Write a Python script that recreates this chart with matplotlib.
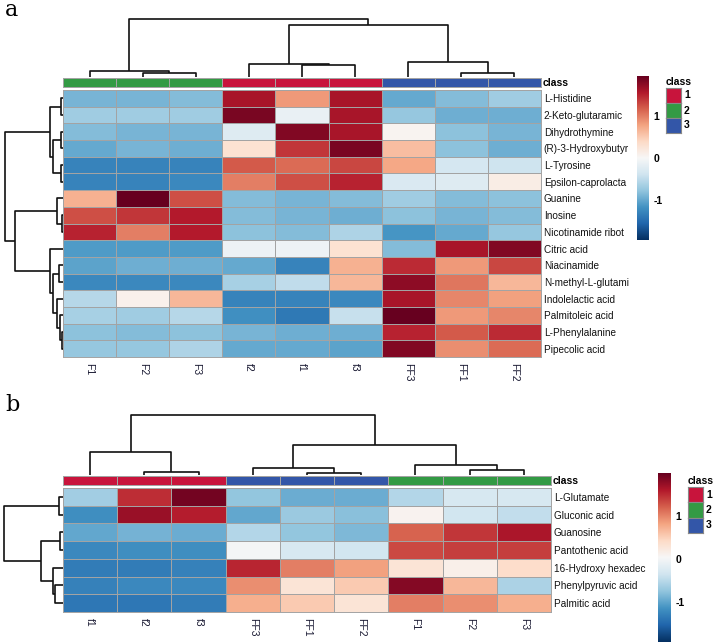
import numpy as np
import matplotlib
matplotlib.use("Agg")
import matplotlib.pyplot as plt
from matplotlib.colors import Normalize, ListedColormap

# ---------------- data: panel a ----------------
a_cols = ["F1", "F2", "F3", "f2", "f1", "f3", "FF3", "FF1", "FF2"]
a_class = [2, 2, 2, 1, 1, 1, 3, 3, 3]
a_rows = ["L-Histidine", "2-Keto-glutaramic", "Dihydrothymine", "(R)-3-Hydroxybutyr",
          "L-Tyrosine", "Epsilon-caprolacta", "Guanine", "Inosine", "Nicotinamide ribot",
          "Citric acid", "Niacinamide", "N-methyl-L-glutami", "Indolelactic acid",
          "Palmitoleic acid", "L-Phenylalanine", "Pipecolic acid"]
a_values = [
    [-0.90, -0.90, -0.85, 1.60, 0.85, 1.60, -1.00, -0.85, -0.70],
    [-0.70, -0.70, -0.70, 1.85, -0.15, 1.60, -0.75, -0.95, -0.95],
    [-0.85, -0.90, -0.90, -0.25, 1.80, 1.60, 0.05, -0.80, -0.90],
    [-1.00, -0.90, -0.95, 0.30, 1.40, 1.85, 0.60, -0.80, -0.95],
    [-1.30, -1.30, -1.30, 1.20, 1.10, 1.30, 0.75, -0.35, -0.40],
    [-1.30, -1.30, -1.25, 1.00, 1.25, 1.50, -0.30, -0.25, 0.15],
    [0.70, 1.95, 1.25, -0.85, -0.90, -0.85, -0.70, -0.85, -0.80],
    [1.25, 1.40, 1.55, -0.85, -0.90, -0.95, -0.80, -0.90, -0.85],
    [1.50, 1.00, 1.55, -0.80, -0.85, -0.60, -1.15, -1.00, -0.75],
    [-1.10, -1.10, -1.10, -0.10, -0.10, 0.30, -0.85, 1.60, 1.80],
    [-1.05, -0.95, -0.95, -1.00, -1.30, 0.70, 1.45, 0.85, 1.30],
    [-1.25, -1.25, -1.25, -0.65, -0.50, 0.65, 1.75, 1.05, 0.65],
    [-0.55, 0.10, 0.65, -1.30, -1.30, -1.25, 1.60, 0.95, 0.80],
    [-0.65, -0.70, -0.55, -1.20, -1.40, -0.45, 1.95, 0.85, 0.95],
    [-0.80, -0.85, -0.80, -0.90, -0.95, -0.95, 1.50, 1.20, 1.45],
    [-0.75, -0.75, -0.60, -1.00, -1.00, -1.05, 1.80, 0.90, 1.10],
]
# linkage (left, right, height) ; ids >= n refer to earlier merges
a_col_merges = [(1, 2, 4.4), (0, 9, 5.7), (4, 5, 11.7), (3, 11, 12.7),
                (7, 8, 4.0), (6, 13, 15.0), (12, 14, 51.0), (10, 15, 57.4)]
a_row_merges = [(0, 1, 2.0), (2, 3, 2.0), (4, 5, 2.3), (17, 18, 10.3), (16, 19, 13.0),
                (7, 8, 1.5), (6, 21, 6.5), (14, 15, 1.5), (13, 23, 3.0), (12, 24, 5.7),
                (10, 11, 3.7), (26, 25, 10.0), (9, 27, 13.0), (22, 28, 48.0), (20, 29, 58.0)]

# ---------------- data: panel b ----------------
b_cols = ["f1", "f2", "f3", "FF3", "FF1", "FF2", "F1", "F2", "F3"]
b_class = [1, 1, 1, 3, 3, 3, 2, 2, 2]
b_rows = ["L-Glutamate", "Gluconic acid", "Guanosine", "Pantothenic acid",
          "16-Hydroxy hexadec", "Phenylpyruvic acid", "Palmitic acid"]
b_values = [
    [-0.65, 1.50, 1.95, -0.75, -0.95, -0.95, -0.55, -0.30, -0.30],
    [-1.20, 1.75, 1.60, -1.00, -0.70, -0.80, 0.10, -0.35, -0.45],
    [-1.00, -0.90, -0.95, -0.55, -0.75, -0.85, 1.20, 1.45, 1.65],
    [-1.25, -1.20, -1.20, 0.00, -0.30, -0.35, 1.35, 1.40, 1.40],
    [-1.35, -1.35, -1.30, 1.55, 1.05, 0.85, 0.30, 0.15, 0.40],
    [-1.30, -1.25, -1.25, 0.95, 0.30, 0.55, 1.85, 0.70, -0.60],
    [-1.40, -1.40, -1.35, 0.75, 0.55, 0.30, 1.05, 0.95, 0.75],
]
b_col_merges = [(1, 2, 2.7), (0, 9, 22.7), (4, 5, 1.7), (3, 11, 6.7),
                (7, 8, 5.0), (6, 13, 10.0), (12, 14, 29.3), (10, 15, 59.3)]
b_row_merges = [(0, 1, 4.0), (2, 3, 3.0), (5, 6, 8.0), (4, 9, 10.0),
                (8, 10, 22.0), (7, 11, 59.0)]

class_labels = ["1", "2", "3"]
class_colors = {1: "#C8143C", 2: "#339A44", 3: "#3356A8"}

W, H = 719, 644
fig = plt.figure(figsize=(W / 100, H / 100), dpi=100)
plt.rcParams['font.family'] = ['Liberation Sans', 'DejaVu Sans']

GRID = "#a3a3a3"


def ax_px(x0, y0, x1, y1):
    return fig.add_axes([x0 / W, 1 - y1 / H, (x1 - x0) / W, (y1 - y0) / H])


def draw_dendro(ax, merges, n, orient):
    pos = {i: i + 0.5 for i in range(n)}
    hgt = {i: 0.0 for i in range(n)}
    for k, (l, r, h) in enumerate(merges):
        xs = [pos[l], pos[l], pos[r], pos[r]]
        ys = [hgt[l], h, h, hgt[r]]
        if orient == "top":
            ax.plot(xs, ys, color="#111111", lw=1.2, solid_capstyle="butt")
        else:
            ax.plot(ys, xs, color="#111111", lw=1.2, solid_capstyle="butt")
        pos[n + k] = (pos[l] + pos[r]) / 2
        hgt[n + k] = h
    ax.axis("off")


cmap = plt.get_cmap("RdBu_r")


def panel(hx0, hx1, hy0, hy1, bar_y0, dend_top, dend_left, values, rows, cols, classes,
          col_merges, row_merges, norm, cb_box, leg_x, leg_y, leg_h, letter, letter_y):
    data = np.array(values)
    nr, nc = data.shape
    # heatmap
    ax = ax_px(hx0, hy0, hx1, hy1)
    ax.pcolormesh(np.arange(nc + 1), np.arange(nr + 1), data, cmap=cmap, norm=norm,
                  edgecolors=GRID, linewidth=0.6)
    ax.set_xlim(0, nc)
    ax.set_ylim(nr, 0)
    for s in ax.spines.values():
        s.set_color(GRID)
        s.set_linewidth(0.7)
    ax.set_xticks(np.arange(nc) + 0.5)
    ax.set_xticklabels(cols, rotation=270, fontsize=7.5, color="#1a1a33")
    ax.set_yticks(np.arange(nr) + 0.5)
    ax.set_yticklabels(rows, fontsize=7.2, color="#111111")
    ax.yaxis.tick_right()
    ax.tick_params(length=0, pad=2)
    ax.tick_params(axis="x", pad=4)
    # class bar
    axc = ax_px(hx0, bar_y0, hx1, bar_y0 + 9)
    ccol = ListedColormap([class_colors[1], class_colors[2], class_colors[3]])
    axc.pcolormesh(np.arange(nc + 1), [0, 1], np.array([classes]), cmap=ccol,
                   vmin=0.5, vmax=3.5, edgecolors=GRID, linewidth=0.6)
    axc.set_xlim(0, nc)
    axc.set_xticks([])
    axc.set_yticks([])
    for s in axc.spines.values():
        s.set_color(GRID)
        s.set_linewidth(0.7)
    axc.text(1.003, 0.5, "class", transform=axc.transAxes, fontsize=7.5,
             fontweight="bold", va="center", ha="left")
    # column dendrogram
    axd = ax_px(hx0, dend_top, hx1, bar_y0 - 1)
    draw_dendro(axd, col_merges, nc, "top")
    axd.set_xlim(0, nc)
    top_h = max(m[2] for m in col_merges)
    axd.set_ylim(0, top_h * 1.01)
    # row dendrogram
    axr = ax_px(dend_left, hy0, hx0, hy1)
    draw_dendro(axr, row_merges, nr, "left")
    rtop = max(m[2] for m in row_merges)
    axr.set_ylim(nr, 0)
    axr.set_xlim(rtop * (hx0 - dend_left) / (hx0 - dend_left - 2), 0)
    # colorbar
    cx0, cy0, cx1, cy1 = cb_box
    axb = ax_px(cx0, cy0, cx1, cy1)
    grad = np.linspace(norm.vmin, norm.vmax, 256).reshape(-1, 1)
    axb.imshow(grad, cmap=cmap, norm=norm, aspect="auto", origin="lower",
               extent=[0, 1, norm.vmin, norm.vmax])
    axb.set_xticks([])
    axb.yaxis.tick_right()
    axb.set_yticks([1, 0, -1])
    axb.set_yticklabels(["1", "0", "-1"], fontsize=7.5, fontweight="bold")
    axb.tick_params(length=0, pad=3)
    for s in axb.spines.values():
        s.set_visible(False)
    # class legend
    fig.text(leg_x / W, 1 - (leg_y - 1) / H, "class", fontsize=7.5, fontweight="bold",
             ha="left", va="bottom")
    for i, c in enumerate([1, 2, 3]):
        y0 = leg_y + i * leg_h
        axl = ax_px(leg_x, y0, leg_x + 15, y0 + leg_h)
        axl.set_facecolor(class_colors[c])
        axl.set_xticks([])
        axl.set_yticks([])
        for s in axl.spines.values():
            s.set_color("#888888")
            s.set_linewidth(0.8)
        fig.text((leg_x + 18) / W, 1 - (y0 + leg_h / 2) / H, class_labels[i],
                 fontsize=7.5, fontweight="bold", ha="left", va="center")
    fig.text(5 / W, 1 - letter_y / H, letter, fontsize=16, family="DejaVu Serif",
             ha="left", va="center")


panel(63, 541, 90, 357, 78, 18, 3, a_values, a_rows, a_cols, a_class,
      a_col_merges, a_row_merges, Normalize(-1.95, 1.95), (637, 76, 649, 240),
      666, 88, 15, "a", 10)
panel(63, 551, 488, 612, 476, 414, 2, b_values, b_rows, b_cols, b_class,
      b_col_merges, b_row_merges, Normalize(-1.95, 2.02), (658, 473, 671, 642),
      688, 487, 15.3, "b", 405)

fig.savefig("out.png", dpi=100)
